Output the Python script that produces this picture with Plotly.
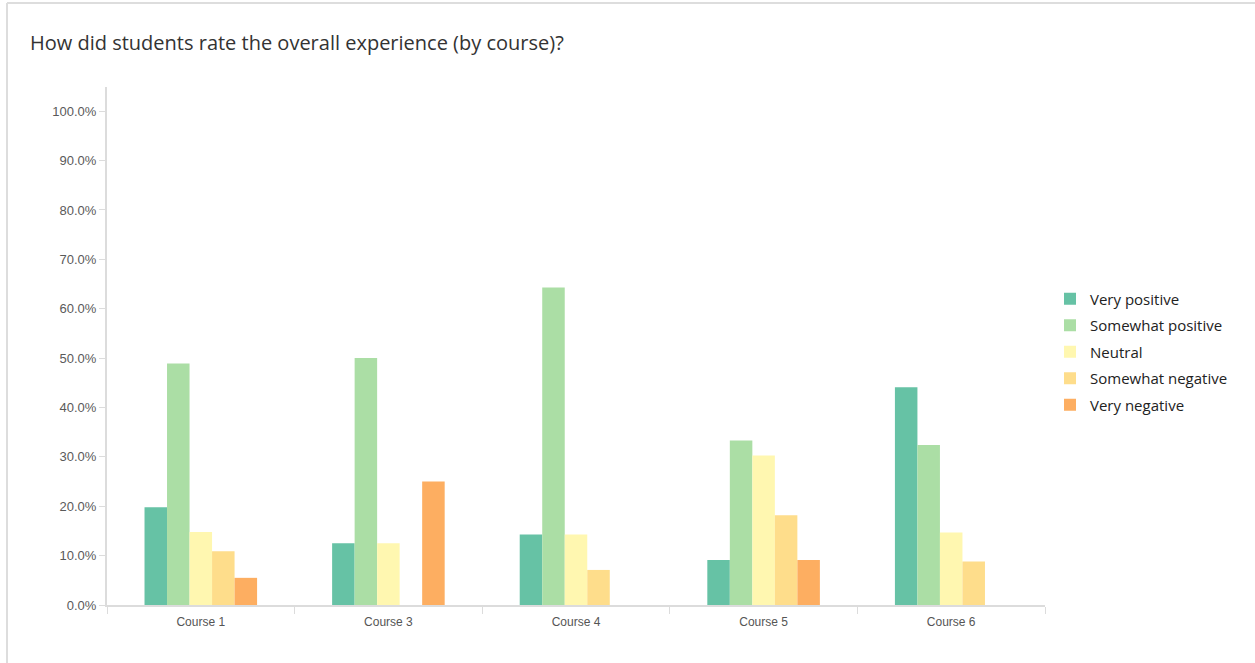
import plotly.graph_objects as go

# Survey results: share of students per rating, by course (percent)
courses = ["Course 1", "Course 3", "Course 4", "Course 5", "Course 6"]
ratings = ["Very positive", "Somewhat positive", "Neutral", "Somewhat negative", "Very negative"]

very_positive = [19.8, 12.5, 14.3, 9.1, 44.1]
somewhat_positive = [48.9, 50.0, 64.3, 33.3, 32.4]
neutral = [14.8, 12.5, 14.3, 30.3, 14.7]
somewhat_negative = [10.9, 0.0, 7.1, 18.2, 8.8]
very_negative = [5.5, 25.0, 0.0, 9.1, 0.0]

series = [very_positive, somewhat_positive, neutral, somewhat_negative, very_negative]
colors = ["#66c2a5", "#abdea5", "#fff7b0", "#fedd8b", "#fdae61"]

y_ticks = [0, 10, 20, 30, 40, 50, 60, 70, 80, 90, 100]
y_tick_text = [f"{v:.1f}%" for v in y_ticks]

W, H = 1255, 663
L, R, T, B = 107, 210, 87, 58
pw, ph = W - L - R, H - T - B


def px_x(x):
    return (x - L) / pw


def px_y(y):
    return (H - B - y) / ph


fig = go.Figure()
for name, vals, col in zip(ratings, series, colors):
    fig.add_trace(go.Bar(
        x=courses, y=vals, name=name, legendgroup=name,
        marker=dict(color=col, line=dict(width=0)),
        hovertemplate="%{x}<br>" + name + ": %{y:.1f}%<extra></extra>",
    ))

axis_gray = "#dcdcdc"
fig.update_layout(
    width=W, height=H,
    margin=dict(l=L, r=R, t=T, b=B, autoexpand=False),
    paper_bgcolor="white", plot_bgcolor="white",
    barmode="group", bargap=0.4, bargroupgap=0,
    font=dict(family="Liberation Sans, Arial, sans-serif", color="#555555", size=12),
    title=dict(
        text="How did students rate the overall experience (by course)?",
        x=30 / W, xref="container", xanchor="left",
        y=1 - 43 / H, yref="container", yanchor="middle",
        font=dict(family="Open Sans, sans-serif", size=20, color="#333333"),
    ),
    legend=dict(
        x=px_x(1050), xanchor="left", y=px_y(352), yanchor="middle",
        font=dict(family="Open Sans, sans-serif", size=15, color="#222222"),
        tracegroupgap=4, itemwidth=30,
    ),
    xaxis=dict(
        showline=True, linecolor=axis_gray, linewidth=2,
        ticks="outside", tickson="boundaries", ticklen=7, tickcolor=axis_gray,
        tickwidth=1, showgrid=False, fixedrange=True, ticklabelstandoff=5,
        tickfont=dict(size=12, color="#555555"),
    ),
    yaxis=dict(
        range=[0, 104.9], tickvals=y_ticks, ticktext=y_tick_text,
        showline=True, linecolor=axis_gray, linewidth=2,
        ticks="outside", ticklen=6, tickcolor=axis_gray, tickwidth=1,
        showgrid=False, zeroline=False, fixedrange=True,
        tickfont=dict(size=13, color="#5a5a5a"),
    ),
    shapes=[
        # card frame: top and left edges
        dict(type="line", xref="paper", yref="paper",
             x0=px_x(7), x1=px_x(W + 5), y0=px_y(3), y1=px_y(3),
             line=dict(color="#dddddd", width=2)),
        dict(type="line", xref="paper", yref="paper",
             x0=px_x(7), x1=px_x(7), y0=px_y(3), y1=px_y(H + 5),
             line=dict(color="#dddddd", width=2)),
    ],
)

fig.write_html("out.html")
